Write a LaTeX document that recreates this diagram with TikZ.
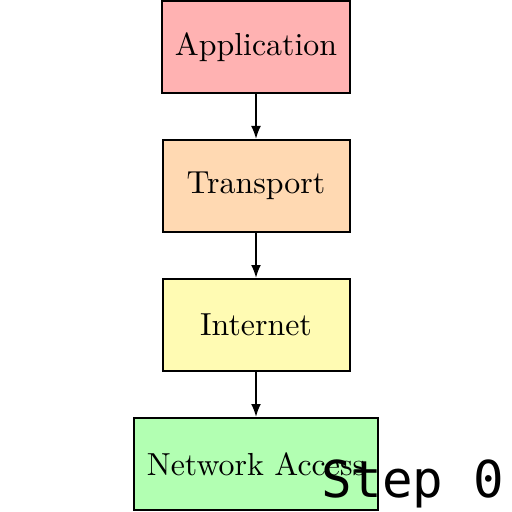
\documentclass[tikz,border=0pt]{standalone}
\usepackage{fontspec}
\newfontfamily\stepfont{DejaVu Sans Mono}
\newfontfamily\layerfont{lmroman10-regular.otf}
\usetikzlibrary{arrows.meta}
\begin{document}
\begin{tikzpicture}[x=1bp, y=-1bp, line width=2bp, layer node/.style={rectangle,draw,minimum width=187bp,minimum height=92bp,inner sep=13bp,font=\layerfont\fontsize{32}{38}\selectfont}]%
\useasboundingbox (0,0) rectangle (512,512);
\begin{scope}
\node[layer node, fill=red!30] (app) at (256,47) {Application};
\node[layer node, fill=orange!30] (trans) at (256,186) {Transport};
\node[layer node, fill=yellow!30] (inet) at (256,325) {Internet};
\node[layer node, fill=green!30] (net) at (256,464) {Network Access};
%\node[layer node] (v) at (,) {};
\end{scope}
\begin{scope}[-{Latex[length=13bp,width=10bp]}]
\draw  (app) edge node{} (trans);
\draw  (trans) edge node{} (inet);
\draw  (inet) edge node{} (net);
\end{scope}
\node[anchor=base west, inner sep=0pt, font=\stepfont\fontsize{51}{61}\selectfont] (step) at (320,497) {Step 0};
\end{tikzpicture}
\end{document}
